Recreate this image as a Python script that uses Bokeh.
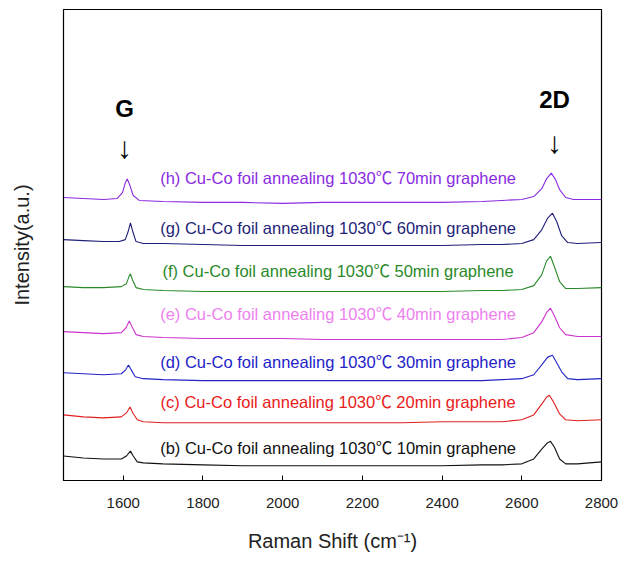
from bokeh.plotting import figure
from bokeh.models import Range1d, FixedTicker, ColumnDataSource
from bokeh.core.properties import value
from bokeh.embed import file_html
from bokeh.resources import INLINE

# Raman shift (cm^-1) sample points and stacked intensities (a.u.) per spectrum
x_h = [1450, 1500, 1550, 1585, 1598, 1605, 1610, 1616, 1625, 1640, 1700, 1800, 1900, 2000, 2100, 2200, 2300, 2400, 2500, 2550, 2600, 2630, 2650, 2662, 2674, 2685, 2695, 2710, 2730, 2800]
y_h = [2890, 2880, 2870, 2880, 2940, 3040, 3080, 3020, 2910, 2860, 2850, 2840, 2840, 2830, 2840, 2840, 2840, 2840, 2850, 2860, 2870, 2900, 2980, 3080, 3140, 3070, 2970, 2890, 2870, 2870]

x_g = [1450, 1500, 1550, 1590, 1605, 1612, 1618, 1624, 1632, 1650, 1700, 1800, 1900, 2000, 2100, 2200, 2300, 2400, 2500, 2550, 2600, 2630, 2650, 2665, 2677, 2688, 2700, 2715, 2740, 2800]
y_g = [2460, 2450, 2440, 2440, 2460, 2540, 2630, 2540, 2440, 2420, 2420, 2410, 2400, 2400, 2400, 2400, 2400, 2400, 2410, 2410, 2420, 2460, 2560, 2680, 2730, 2640, 2500, 2430, 2420, 2430]

x_f = [1450, 1500, 1550, 1595, 1608, 1614, 1618, 1623, 1632, 1650, 1700, 1800, 1900, 2000, 2100, 2200, 2300, 2400, 2500, 2550, 2600, 2630, 2650, 2662, 2672, 2682, 2695, 2710, 2740, 2800]
y_f = [1980, 1970, 1970, 1980, 2010, 2080, 2110, 2050, 1970, 1950, 1940, 1930, 1930, 1930, 1930, 1930, 1930, 1930, 1940, 1940, 1950, 1990, 2100, 2240, 2290, 2180, 2030, 1960, 1960, 1970]

x_e = [1450, 1500, 1550, 1595, 1607, 1615, 1622, 1632, 1650, 1700, 1800, 1900, 2000, 2100, 2200, 2300, 2400, 2500, 2550, 2600, 2630, 2650, 2663, 2672, 2682, 2695, 2710, 2740, 2800]
y_e = [1520, 1510, 1500, 1510, 1560, 1630, 1570, 1490, 1470, 1460, 1450, 1450, 1450, 1440, 1440, 1440, 1440, 1440, 1440, 1460, 1510, 1620, 1720, 1760, 1680, 1560, 1490, 1470, 1470]

x_d = [1450, 1500, 1550, 1595, 1606, 1613, 1620, 1630, 1650, 1700, 1800, 1900, 2000, 2100, 2200, 2300, 2400, 2500, 2550, 2600, 2630, 2650, 2665, 2677, 2688, 2700, 2715, 2740, 2800]
y_d = [1100, 1090, 1080, 1090, 1130, 1180, 1130, 1060, 1040, 1030, 1020, 1020, 1020, 1020, 1020, 1020, 1020, 1020, 1030, 1040, 1080, 1180, 1260, 1280, 1200, 1110, 1040, 1030, 1040]

x_c = [1450, 1500, 1550, 1595, 1608, 1617, 1624, 1635, 1650, 1700, 1800, 1900, 2000, 2100, 2200, 2300, 2400, 2500, 2550, 2600, 2630, 2650, 2662, 2669, 2680, 2695, 2710, 2740, 2800]
y_c = [670, 650, 640, 650, 690, 750, 690, 620, 600, 590, 590, 590, 590, 590, 590, 590, 600, 600, 600, 620, 670, 780, 850, 870, 800, 680, 620, 610, 620]

x_b = [1450, 1500, 1550, 1595, 1608, 1618, 1625, 1635, 1650, 1700, 1800, 1900, 2000, 2100, 2200, 2300, 2400, 2500, 2550, 2600, 2630, 2650, 2663, 2672, 2682, 2695, 2710, 2740, 2800]
y_b = [250, 230, 220, 220, 250, 300, 250, 190, 180, 170, 160, 150, 150, 150, 150, 150, 150, 160, 160, 170, 220, 320, 380, 400, 340, 220, 170, 170, 190]

labels = [
    "(h) Cu-Co foil annealing 1030\u2103 70min graphene",
    "(g) Cu-Co foil annealing 1030\u2103 60min graphene",
    "(f) Cu-Co foil annealing 1030\u2103 50min graphene",
    "(e) Cu-Co foil annealing 1030\u2103 40min graphene",
    "(d) Cu-Co foil annealing 1030\u2103 30min graphene",
    "(c) Cu-Co foil annealing 1030\u2103 20min graphene",
    "(b) Cu-Co foil annealing 1030\u2103 10min graphene",
]
label_x = [2139, 2139, 2139, 2139, 2139, 2139, 2139]
label_y = [3090, 2580, 2140, 1700, 1210, 800, 330]
x_ticks = [1600, 1800, 2000, 2200, 2400, 2600, 2800]

line_colors = ["#8a2be2", "#1f1f78", "#2a8a2a", "#cc33cc", "#2323c8", "#e02020", "#111111"]
text_colors = ["#8a2be2", "#1f1f78", "#2a8a2a", "#ee82ee", "#2323c8", "#e82020", "#111111"]

FONT = "Liberation Sans"
LABEL_FONT = "'Liberation Sans', 'Noto Sans CJK SC'"

p = figure(width=625, height=554, output_backend="svg", toolbar_location=None,
           x_range=Range1d(1450, 2800), y_range=Range1d(0, 4810),
           min_border_left=63, min_border_right=24, min_border_top=9, min_border_bottom=64)
p.grid.visible = False
p.outline_line_color = "black"
p.outline_line_width = 1.2

series = [(x_h, y_h), (x_g, y_g), (x_f, y_f), (x_e, y_e), (x_d, y_d), (x_c, y_c), (x_b, y_b)]
for (xs, ys), c in zip(series, line_colors):
    p.line(xs, ys, line_color=c, line_width=1.1)

src = ColumnDataSource(dict(x=label_x, y=label_y, t=labels, c=text_colors))
p.text(x="x", y="y", text="t", text_color="c", source=src,
       text_font=value(LABEL_FONT), text_font_size="16.5px", text_align="center", text_baseline="middle")

p.text(x=[1603, 2682], y=[3800, 3890], text=["G", "2D"], text_font=value(FONT),
       text_font_size="24px", text_font_style="bold", text_align="center", text_baseline="middle",
       text_color="black")
p.text(x=[1603, 2682], y=[3400, 3450], text=["\u2193", "\u2193"], text_font=value(FONT),
       text_font_size="30px", text_align="center", text_baseline="middle", text_color="black")

# x axis
xa = p.xaxis[0]
xa.ticker = FixedTicker(ticks=x_ticks)
xa.major_tick_in = 5
xa.major_tick_out = 0
xa.minor_tick_in = 0
xa.minor_tick_out = 0
xa.major_tick_line_color = "black"
xa.axis_line_color = "black"
xa.major_label_text_font = FONT
xa.major_label_text_font_size = "15px"
xa.major_label_text_color = "#222222"
xa.major_label_standoff = 17
xa.axis_label = "Raman Shift (cm\u207b\u00b9)"
xa.axis_label_text_font = FONT
xa.axis_label_text_font_size = "20px"
xa.axis_label_text_font_style = "normal"
xa.axis_label_text_color = "#222222"
xa.axis_label_standoff = 19

# y axis
ya = p.yaxis[0]
ya.ticker = FixedTicker(ticks=[])
ya.major_tick_in = 0
ya.major_tick_out = 0
ya.minor_tick_in = 0
ya.minor_tick_out = 0
ya.axis_line_color = "black"
ya.axis_label = "Intensity(a.u.)"
ya.axis_label_text_font = FONT
ya.axis_label_text_font_size = "20px"
ya.axis_label_text_font_style = "normal"
ya.axis_label_text_color = "#222222"
ya.axis_label_standoff = 31

open("out.html", "w").write(file_html(p, INLINE))
